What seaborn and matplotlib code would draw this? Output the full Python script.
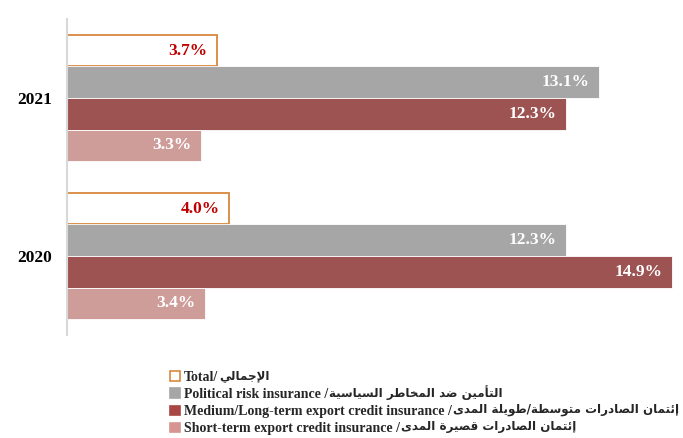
import pandas as pd
import matplotlib.pyplot as plt
from matplotlib.patches import Patch
import seaborn as sns

years = ['2021', '2020']
series = ['Total', 'Political', 'Medium', 'Short']
total = [3.7, 4.0]
political = [13.1, 12.3]
medium = [12.3, 14.9]
short = [3.3, 3.4]

legend_en = ['Total/', 'Political risk insurance /',
             'Medium/Long-term export credit insurance /',
             'Short-term export credit insurance /']
legend_ar = ['الإجمالي', 'التأمين ضد المخاطر السياسية',
             'إئتمان الصادرات متوسطة/طويلة المدى',
             'إئتمان الصادرات قصيرة المدى']

colors = {'Total': '#FFFFFF', 'Political': '#A6A6A6',
          'Medium': '#A94745', 'Short': '#D69592'}
edge_total = '#D9873D'

# matplotlib does no arabic shaping: pick presentation forms by hand
# (isolated, final, initial, medial), then flip to visual order
FORMS = {
    'ا': ('\uFE8D', '\uFE8E', None, None),
    'أ': ('\uFE83', '\uFE84', None, None),
    'إ': ('\uFE87', '\uFE88', None, None),
    'ت': ('\uFE95', '\uFE96', '\uFE97', '\uFE98'),
    'ة': ('\uFE93', '\uFE94', None, None),
    'ج': ('\uFE9D', '\uFE9E', '\uFE9F', '\uFEA0'),
    'خ': ('\uFEA5', '\uFEA6', '\uFEA7', '\uFEA8'),
    'د': ('\uFEA9', '\uFEAA', None, None),
    'ر': ('\uFEAD', '\uFEAE', None, None),
    'س': ('\uFEB1', '\uFEB2', '\uFEB3', '\uFEB4'),
    'ص': ('\uFEB9', '\uFEBA', '\uFEBB', '\uFEBC'),
    'ض': ('\uFEBD', '\uFEBE', '\uFEBF', '\uFEC0'),
    'ط': ('\uFEC1', '\uFEC2', '\uFEC3', '\uFEC4'),
    'ق': ('\uFED5', '\uFED6', '\uFED7', '\uFED8'),
    'ل': ('\uFEDD', '\uFEDE', '\uFEDF', '\uFEE0'),
    'م': ('\uFEE1', '\uFEE2', '\uFEE3', '\uFEE4'),
    'ن': ('\uFEE5', '\uFEE6', '\uFEE7', '\uFEE8'),
    'و': ('\uFEED', '\uFEEE', None, None),
    'ى': ('\uFEEF', '\uFEF0', None, None),
    'ي': ('\uFEF1', '\uFEF2', '\uFEF3', '\uFEF4'),
    'ئ': ('\uFE89', '\uFE8A', '\uFE8B', '\uFE8C'),
}
LAM_ALEF = {'ا': ('\uFEFB', '\uFEFC'), 'أ': ('\uFEF7', '\uFEF8'),
            'إ': ('\uFEF9', '\uFEFA')}


def shape(text):
    chars = []
    i = 0
    while i < len(text):
        if text[i] == 'ل' and i + 1 < len(text) and text[i + 1] in LAM_ALEF:
            chars.append(('LA', text[i + 1]))
            i += 2
        else:
            chars.append((text[i], None))
            i += 1
    out = []
    for k, (c, a) in enumerate(chars):
        prev = chars[k - 1][0] if k > 0 else None
        nxt = chars[k + 1][0] if k + 1 < len(chars) else None
        joins_prev = prev in FORMS and FORMS[prev][2] is not None
        if c == 'LA':
            out.append(LAM_ALEF[a][1 if joins_prev else 0])
            continue
        if c not in FORMS:
            out.append(c)
            continue
        f = FORMS[c]
        joins_next = f[2] is not None and (nxt in FORMS or nxt == 'LA')
        if joins_prev and joins_next:
            out.append(f[3])
        elif joins_prev:
            out.append(f[1])
        elif joins_next:
            out.append(f[2])
        else:
            out.append(f[0])
    return ''.join(reversed(out))


df = pd.DataFrame({
    'year': years * 4,
    'series': [s for s in series for _ in years],
    'value': total + political + medium + short,
})

sns.set_theme(style='white')
plt.rcParams['font.family'] = ['Liberation Serif', 'DejaVu Sans']

fig = plt.figure(figsize=(6.83, 4.38), dpi=100)
ax = fig.add_axes([67 / 683, 103 / 438, 616 / 683, 316 / 438])

sns.barplot(data=df, y='year', x='value', hue='series', order=years,
            hue_order=series, palette=colors, orient='h', ax=ax,
            linewidth=0, legend=False)

for name, cont in zip(series, ax.containers):
    for p in cont:
        if name == 'Total':
            p.set_edgecolor(edge_total)
            p.set_linewidth(1.3)
        else:
            p.set_edgecolor('white')
            p.set_linewidth(0.6)
        w = p.get_width()
        ax.annotate('{:.1f}%'.format(w), xy=(w, p.get_y() + p.get_height() / 2),
                    xytext=(-7, 0), textcoords='offset points', ha='right',
                    va='center', fontsize=12.5, fontweight='bold',
                    color='#C00000' if name == 'Total' else 'white')

ax.set_xlim(0, 15.17)
ax.set_xticks([])
ax.set_xlabel('')
ax.set_ylabel('')
ax.tick_params(axis='y', length=0, pad=11)
for lab in ax.get_yticklabels():
    lab.set_fontweight('bold')
    lab.set_fontsize(12.5)
    lab.set_color('black')
for s in ['top', 'right', 'bottom']:
    ax.spines[s].set_visible(False)
ax.spines['left'].set_color('#D9D9D9')
ax.spines['left'].set_linewidth(1.5)

handles = []
for name, en in zip(series, legend_en):
    handles.append(Patch(facecolor=colors[name],
                         edgecolor=edge_total if name == 'Total' else colors[name],
                         linewidth=1.2, label=en))
leg = fig.legend(handles=handles, loc='upper left',
                 bbox_to_anchor=(163 / 683, 1 - 364 / 438),
                 frameon=False, prop={'weight': 'bold', 'size': 10},
                 handlelength=0.7, handleheight=0.7, handletextpad=0.3,
                 labelspacing=0.3, borderpad=0)

# arabic half of each legend entry, set right after the latin text
# (nudged up a little: arabic glyphs sit low on the baseline)
fig.canvas.draw()
inv = fig.transFigure.inverted()
for t, ar in zip(leg.get_texts(), legend_ar):
    bb = t.get_window_extent()
    x1, yc = inv.transform((bb.x1 + 1, (bb.y0 + bb.y1) / 2 + 2))
    fig.text(x1, yc, shape(ar), ha='left', va='center', fontsize=8.6,
             fontweight='bold', family='DejaVu Sans')

fig.savefig('out.png', dpi=100)
